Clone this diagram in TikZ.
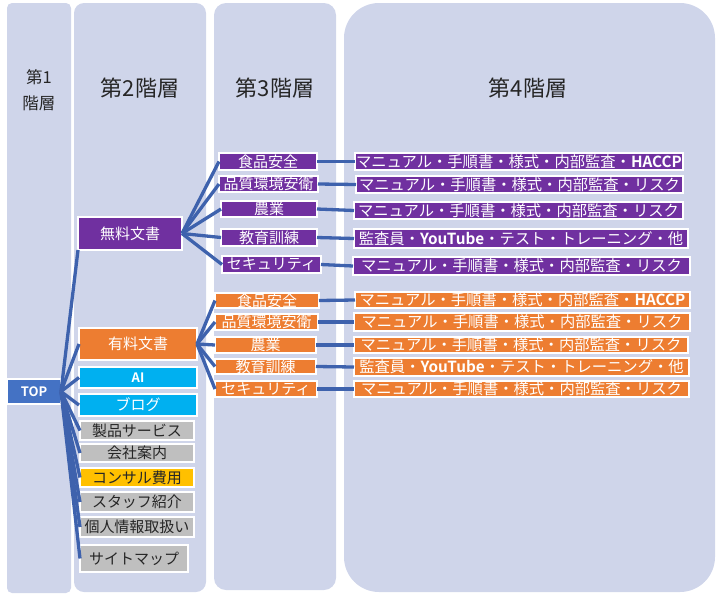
\documentclass[tikz,border=0pt]{standalone}
\usepackage{fontspec}
\setmainfont{Noto Sans CJK JP}[BoldFont={Noto Sans CJK JP Bold}]
\newcommand\fsz[1]{\fontsize{#1}{#1}\selectfont}
\definecolor{colbg}{HTML}{CFD5EA}
\definecolor{pur}{HTML}{7030A0}
\definecolor{org}{HTML}{ED7D31}
\definecolor{cyn}{HTML}{00B0F0}
\definecolor{gry}{HTML}{BFBFBF}
\definecolor{gld}{HTML}{FFC000}
\definecolor{topb}{HTML}{4472C4}
\definecolor{conn}{HTML}{3E62AD}
\definecolor{hdr}{HTML}{262626}
\tikzset{
  bx/.style={draw=white, line width=1.5pt, inner sep=0pt, outer sep=0pt, anchor=center, text=white, font=\fsz{15}},
  pbx/.style={bx, fill=pur},
  obx/.style={bx, fill=org},
  cbx/.style={bx, fill=cyn},
  gbx/.style={bx, fill=gry, text=hdr},
  ybx/.style={bx, fill=gld, text=hdr},
  lbx/.style={font=\fsz{15.3}},
  con/.style={draw=conn, line width=3.3pt},
  hd/.style={text=hdr, font=\fsz{22}, inner sep=0pt},
}
\begin{document}
\begin{tikzpicture}[x=1pt,y=-1pt]
\useasboundingbox (0,0) rectangle (716,598);
% columns
\fill[colbg, rounded corners=5pt] (7,3) rectangle (71,593);
\fill[colbg, rounded corners=10pt] (74,3) rectangle (206,592);
\fill[colbg, rounded corners=12pt] (214,3) rectangle (336,590);
\fill[colbg, rounded corners=35pt] (344,3) rectangle (715,592);
% headers
\node[hd, font=\fsz{16.5}, align=center] (h1) at (39,90) {第1\\[9pt]階層};
\node[hd] (h2) at (140,88) {第2階層};
\node[hd] (h3) at (275,88) {第3階層};
\node[hd] (h4) at (528,88) {第4階層};
% level 1
\node[bx, fill=topb, minimum width=54pt, minimum height=25pt, font=\fsz{13}\bfseries] (top) at (34,391.5) {TOP};
% level 2
\node[pbx, minimum width=104pt, minimum height=33pt] (free) at (130,233.5) {無料文書};
\node[obx, minimum width=118pt, minimum height=32pt] (paid) at (138,344) {有料文書};
\node[cbx, minimum width=118pt, minimum height=21pt, font=\fsz{13}\bfseries] (ai) at (138,377.5) {AI};
\node[cbx, minimum width=118pt, minimum height=22pt] (blog) at (138,405) {ブログ};
\node[gbx, minimum width=114pt, minimum height=19pt] (prod) at (137,430.5) {製品サービス};
\node[gbx, minimum width=114pt, minimum height=18pt] (comp) at (137,453) {会社案内};
\node[ybx, minimum width=114pt, minimum height=19pt] (cons) at (137,477.5) {コンサル費用};
\node[gbx, minimum width=114pt, minimum height=20pt] (staff) at (137,502) {スタッフ紹介};
\node[gbx, minimum width=114pt, minimum height=20pt] (priv) at (137,527) {個人情報取扱い};
\node[gbx, minimum width=108pt, minimum height=27pt] (map) at (134,558.5) {サイトマップ};
% level 3 purple
\node[pbx, minimum width=98pt, minimum height=17pt] (pf1) at (268,161.5) {食品安全};
\node[pbx, minimum width=99pt, minimum height=16pt] (pf2) at (268.5,184) {品質環境安衛};
\node[pbx, minimum width=96pt, minimum height=16pt] (pf3) at (269,209) {農業};
\node[pbx, minimum width=96pt, minimum height=17pt] (pf4) at (269,237.5) {教育訓練};
\node[pbx, minimum width=99pt, minimum height=17pt] (pf5) at (271.5,264.5) {セキュリティ};
% level 3 orange
\node[obx, minimum width=104pt, minimum height=15pt] (of1) at (267,300.5) {食品安全};
\node[obx, minimum width=103pt, minimum height=16pt] (of2) at (266.5,322) {品質環境安衛};
\node[obx, minimum width=101pt, minimum height=16pt] (of3) at (265.5,345) {農業};
\node[obx, minimum width=101pt, minimum height=15pt] (of4) at (265.5,366.5) {教育訓練};
\node[obx, minimum width=102pt, minimum height=16pt] (of5) at (266,389) {セキュリティ};
% level 4 purple
\node[pbx, lbx, minimum width=328pt, minimum height=17pt] (p41) at (519,161.5) {マニュアル・手順書・様式・内部監査・\textbf{HACCP}};
\node[pbx, lbx, minimum width=327pt, minimum height=17pt] (p42) at (519.5,184.5) {マニュアル・手順書・様式・内部監査・リスク};
\node[pbx, lbx, minimum width=329pt, minimum height=17pt] (p43) at (518.5,210.5) {マニュアル・手順書・様式・内部監査・リスク};
\node[pbx, lbx, minimum width=334pt, minimum height=19pt] (p44) at (521,238.5) {監査員・\textbf{YouTube}・テスト・トレーニング・他};
\node[pbx, lbx, minimum width=337pt, minimum height=18pt] (p45) at (521.5,266) {マニュアル・手順書・様式・内部監査・リスク};
% level 4 orange
\node[obx, lbx, minimum width=335pt, minimum height=16pt] (o41) at (522.5,300) {マニュアル・手順書・様式・内部監査・\textbf{HACCP}};
\node[obx, lbx, minimum width=336pt, minimum height=18pt] (o42) at (522,322) {マニュアル・手順書・様式・内部監査・リスク};
\node[obx, lbx, minimum width=334pt, minimum height=16pt] (o43) at (521,345) {マニュアル・手順書・様式・内部監査・リスク};
\node[obx, lbx, minimum width=335pt, minimum height=18pt] (o44) at (521.5,367) {監査員・\textbf{YouTube}・テスト・トレーニング・他};
\node[obx, lbx, minimum width=335pt, minimum height=16pt] (o45) at (521.5,389) {マニュアル・手順書・様式・内部監査・リスク};
% connectors level 1 -> 2
\draw[con] (top.east) -- (free.south west);
\foreach \n in {paid,ai,blog,prod,comp,cons,staff,priv,map}
  \draw[con] (top.east) -- (\n.west);
% level 2 -> 3
\foreach \n in {pf1,pf2,pf3,pf4,pf5}
  \draw[con] (free.east) -- (\n.west);
\foreach \n in {of1,of2,of3,of4,of5}
  \draw[con] (paid.east) -- (\n.west);
% level 3 -> 4
\draw[con] (pf1.east) -- (p41.west);
\draw[con] (pf2.east) -- (p42.west);
\draw[con] (pf3.east) -- (p43.west);
\draw[con] (pf4.east) -- (p44.west);
\draw[con] (pf5.east) -- (p45.west);
\draw[con] (of1.east) -- (o41.west);
\draw[con] (of2.east) -- (o42.west);
\draw[con] (of3.east) -- (o43.west);
\draw[con] (of4.east) -- (o44.west);
\draw[con] (of5.east) -- (o45.west);
\end{tikzpicture}
\end{document}
